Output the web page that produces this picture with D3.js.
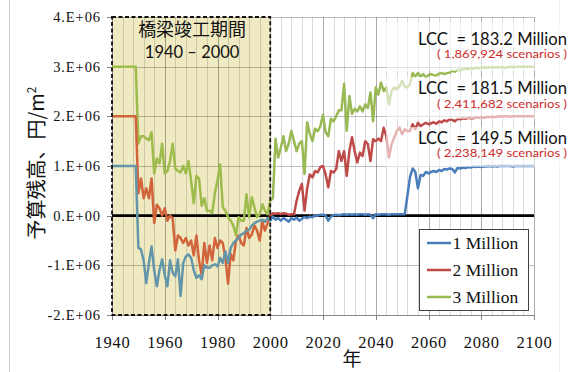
<!DOCTYPE html>
<html><head><meta charset="utf-8">
<script src="https://cdn.jsdelivr.net/npm/d3@7"></script>
<style>html,body{margin:0;padding:0;background:#fff;overflow:hidden}</style>
</head><body><svg id="c" width="575" height="372"></svg>
<script>
// ---------------- data ----------------
const years = d3.range(1940, 2101);
const seriesNames = ["1 Million", "2 Million", "3 Million"];
const blue = [
 1,1,1,1,1,1,1,1,1,1,
 -0.65,-0.68,-0.9,-1.36,-0.95,-0.62,-1.1,-1.42,-1.1,-0.88,
 -1.2,-1.42,-0.9,-1.15,-1.22,-0.88,-1.62,-0.95,-0.82,-0.78,
 -0.85,-1.1,-1.25,-1.2,-1.28,-1.0,-1.05,-1.05,-1.0,-0.98,
 -1.02,-0.85,-0.95,-0.72,-0.95,-0.65,-0.55,-0.5,-0.45,-0.38,
 -0.35,-0.3,-0.28,-0.2,-0.15,-0.12,-0.1,-0.08,-0.12,-0.05,
 -0.1,-0.02,-0.08,-0.05,-0.1,-0.05,-0.08,-0.12,-0.05,-0.08,
 -0.04,-0.1,-0.06,-0.03,-0.05,-0.02,-0.03,0.01,0.0,0.02,
 0.02,0.0,-0.1,-0.02,0.01,0.02,0.01,0.02,0.03,0.02,
 0.03,0.02,0.03,0.02,0.03,0.03,0.02,0.03,0.02,-0.05,
 0.03,0.02,0.03,0.03,0.03,0.02,0.03,0.03,0.03,0.03,
 0.03,0.03,0.4,0.78,0.95,0.88,0.55,0.82,0.8,0.88,
 0.85,0.88,0.9,0.88,0.92,0.9,0.94,0.93,0.95,0.94,
 0.87,0.96,0.95,0.97,0.96,0.98,0.97,0.99,0.98,0.99,
 0.98,0.99,0.99,1.0,0.99,1.0,0.99,1.0,1.0,1.0,
 1.0,1.0,0.99,1.0,1.0,1.0,1.0,1.0,1.0,1.0,
 1.0];
const red = [
 2,2,2,2,2,2,2,2,2,2,
 0.45,0.75,0.35,0.55,0.35,0.75,-0.15,0.22,0.15,0.0,
 0.15,-0.1,0.0,-0.05,-0.7,-0.4,-0.45,-0.55,-0.45,-0.6,
 -0.5,-0.8,-0.4,-0.9,-1.2,-0.55,-0.95,-0.6,-0.9,-0.45,
 -0.65,-0.5,-0.55,-0.85,-1.37,-0.77,-0.9,-0.5,-0.4,-0.55,
 -0.6,-0.25,-0.45,-0.38,-0.2,-0.3,-0.5,-0.12,-0.3,-0.15,
 0.0,0.05,0.04,0.05,0.03,0.05,0.04,0.02,0.03,0.03,
 0.3,0.5,0.64,0.1,0.55,0.83,0.77,0.9,0.87,0.98,
 1.0,0.83,0.57,0.9,0.87,0.94,1.3,1.1,1.3,0.8,
 1.3,1.58,1.3,1.07,1.27,1.2,1.5,1.44,1.1,1.54,
 1.5,1.55,1.5,1.77,1.6,1.17,1.44,1.57,1.71,1.77,
 1.64,1.74,1.7,1.71,1.84,1.74,1.87,1.8,1.84,1.87,
 1.84,1.86,1.88,1.85,1.9,1.88,1.92,1.9,1.94,1.93,
 1.9,1.95,1.94,1.96,1.95,1.97,1.96,1.96,1.98,1.97,
 1.98,1.97,1.99,1.98,1.99,1.98,1.99,2.0,1.99,2.0,
 2.0,1.99,2.0,2.0,2.0,2.0,2.0,2.0,2.0,2.0,
 2.0];
const green = [
 3,3,3,3,3,3,3,3,3,3,
 1.45,1.6,1.6,1.55,1.52,1.68,0.85,1.15,1.05,1.45,
 0.85,0.9,1.1,1.45,0.95,0.9,0.87,1.0,0.85,1.1,
 0.7,0.25,0.8,0.75,0.2,0.35,0.1,0.1,0.05,0.45,
 0.71,1.03,0.17,0.1,-0.03,-0.1,-0.2,-0.4,-0.03,-0.1,
 -0.1,0.43,-0.03,0.37,0.17,-0.03,0.03,0.23,0.1,0.03,
 0.3,0.35,1.55,1.17,1.37,1.6,1.3,1.45,1.71,1.5,
 1.3,1.45,1.5,0.84,1.88,1.65,1.5,1.75,1.7,1.8,
 2.03,1.68,1.6,1.95,1.9,2.0,2.12,2.12,2.65,1.71,
 2.41,2.05,2.15,2.1,2.2,2.1,2.24,2.17,2.48,1.9,
 2.58,2.44,2.68,2.51,2.58,2.24,2.51,2.58,2.55,2.6,
 2.71,2.6,2.58,2.65,2.87,2.8,2.87,2.8,2.85,2.78,
 2.83,2.85,2.83,2.82,2.86,2.87,2.85,2.87,2.88,2.92,
 2.9,2.94,2.93,2.95,2.96,2.95,2.97,2.96,2.98,2.97,
 2.98,2.99,2.98,2.99,2.98,2.99,2.99,2.99,2.99,2.97,
 2.99,3.0,2.99,3.0,3.0,3.0,3.0,3.0,3.0,3.0,
 3.0];
const yTicks = [4, 3, 2, 1, 0, -1, -2];
const yTickLabels = ["4.E+06", "3.E+06", "2.E+06", "1.E+06", "0.E+00", "-1.E+06", "-2.E+06"];
const xTicks = [1940, 1960, 1980, 2000, 2020, 2040, 2060, 2080, 2100];
const xTickLabels = ["1940", "1960", "1980", "2000", "2020", "2040", "2060", "2080", "2100"];
const periodYears = [1940, 2000];
const periodTitle = "橋梁竣工期間";
const periodLabel = "1940 – 2000";
const lccLabels = ["LCC  = 183.2 Million", "LCC  = 181.5 Million", "LCC  = 149.5 Million"];
const scenarioLabels = ["( 1,869,924 scenarios )", "( 2,411,682 scenarios )", "( 2,238,149 scenarios )"];
const yTitle = "予算残高、円/m";
const xTitle = "年";

// ---------------- drawing ----------------
const svg = d3.select("#c");
const L = 112, R = 534, T = 17, B = 315;
const x = d3.scaleLinear().domain([1940, 2100]).range([L, R]);
const y = d3.scaleLinear().domain([-2, 4]).range([B, T]);

svg.append("rect").attr("width", 575).attr("height", 372).attr("fill", "#fff");
// faint page borders
svg.append("line").attr("x1", 9.5).attr("x2", 9.5).attr("y1", 0).attr("y2", 372).attr("stroke", "#cfcfcf");
svg.append("line").attr("x1", 559.5).attr("x2", 559.5).attr("y1", 0).attr("y2", 372).attr("stroke", "#eeeeee");

// period shading
svg.append("rect")
  .attr("x", x(periodYears[0])).attr("y", y(4))
  .attr("width", x(periodYears[1]) - x(periodYears[0])).attr("height", y(-2) - y(4))
  .attr("fill", "#f0eac2");

// gridlines
const g = svg.append("g");
g.selectAll(".vmin").data(d3.range(1940, 2101, 4)).join("line")
  .attr("x1", d => Math.round(x(d)) + 0.5).attr("x2", d => Math.round(x(d)) + 0.5)
  .attr("y1", T).attr("y2", B)
  .attr("stroke", "#000").attr("stroke-opacity", d => (d - 1940) % 20 === 0 ? 0.33 : 0.15);
g.selectAll(".h").data(yTicks).join("line")
  .attr("x1", L).attr("x2", R)
  .attr("y1", d => Math.round(y(d)) + 0.5).attr("y2", d => Math.round(y(d)) + 0.5)
  .attr("stroke", "#000").attr("stroke-opacity", 0.25);

// axes lines & ticks
svg.append("line").attr("x1", L + 0.5).attr("x2", L + 0.5).attr("y1", T).attr("y2", B).attr("stroke", "#868686");
svg.append("line").attr("x1", L).attr("x2", R).attr("y1", B + 0.5).attr("y2", B + 0.5).attr("stroke", "#868686");
svg.selectAll(".yt").data(yTicks).join("line")
  .attr("x1", L - 5).attr("x2", L)
  .attr("y1", d => Math.round(y(d)) + 0.5).attr("y2", d => Math.round(y(d)) + 0.5)
  .attr("stroke", "#868686");
svg.selectAll(".xt").data(xTicks).join("line")
  .attr("x1", d => Math.round(x(d)) + 0.5).attr("x2", d => Math.round(x(d)) + 0.5)
  .attr("y1", B).attr("y2", B + 5).attr("stroke", "#868686");

// zero line
svg.append("line").attr("x1", x(1940)).attr("x2", x(2100)).attr("y1", y(0)).attr("y2", y(0))
  .attr("stroke", "#000").attr("stroke-width", 2.6);

// clip paths
const defs = svg.append("defs");
defs.append("clipPath").attr("id", "cin").append("rect")
  .attr("x", 0).attr("y", 0).attr("width", x(periodYears[1])).attr("height", 372);
defs.append("clipPath").attr("id", "cout").append("rect")
  .attr("x", x(periodYears[1])).attr("y", 0).attr("width", 575).attr("height", 372);

const line = d3.line().x((d, i) => x(years[i])).y(d => y(d)).curve(d3.curveLinear);
const series = [
  {name: seriesNames[0], vals: blue,  cOut: "#4a7ebb", cIn: "#6496aa"},
  {name: seriesNames[1], vals: red,   cOut: "#be4b48", cIn: "#d2643c"},
  {name: seriesNames[2], vals: green, cOut: "#98b954", cIn: "#9ebc4c"}
];
const drawOrder = [2, 1, 0];
drawOrder.forEach(k => {
  const s = series[k];
  svg.append("path").attr("d", line(s.vals)).attr("fill", "none")
    .attr("stroke", s.cIn).attr("stroke-width", 2.5).attr("stroke-linejoin", "round")
    .attr("clip-path", "url(#cin)");
  svg.append("path").attr("d", line(s.vals)).attr("fill", "none")
    .attr("stroke", s.cOut).attr("stroke-width", 2.5).attr("stroke-linejoin", "round")
    .attr("clip-path", "url(#cout)");
});

// LCC label boxes (semi-transparent)
const boxes = [[22, 71], [77, 119], [127, 167]];
const lccBase = [44.5, 94, 143.5];
boxes.forEach((b, i) => {
  svg.append("rect").attr("x", 386).attr("y", b[0]).attr("width", 183).attr("height", b[1] - b[0])
    .attr("fill", "#fff").attr("fill-opacity", 0.58);
  svg.append("text").attr("x", 567).attr("y", lccBase[i]).attr("text-anchor", "end")
    .attr("font-family", "Lato, Open Sans, sans-serif").attr("font-size", 16.5)
    .attr("fill", "#111").attr("textLength", 149).attr("lengthAdjust", "spacingAndGlyphs")
    .style("white-space", "pre").text(lccLabels[i]);
  svg.append("text").attr("x", 567).attr("y", lccBase[i] + 13.5).attr("text-anchor", "end")
    .attr("font-family", "Lato, Open Sans, sans-serif").attr("font-size", 10.5)
    .attr("fill", "#cc2b2b").attr("textLength", 130).attr("lengthAdjust", "spacingAndGlyphs")
    .text(scenarioLabels[i]);
});

// period border
svg.append("rect")
  .attr("x", x(periodYears[0])).attr("y", y(4))
  .attr("width", x(periodYears[1]) - x(periodYears[0])).attr("height", y(-2) - y(4))
  .attr("fill", "none").attr("stroke", "#111").attr("stroke-width", 1.8).attr("stroke-dasharray", "4,2.5");
const pcx = (x(periodYears[0]) + x(periodYears[1])) / 2;
svg.append("text").attr("x", pcx + 1).attr("y", 36).attr("text-anchor", "middle")
  .attr("font-family", "Noto Sans CJK JP, sans-serif").attr("font-size", 18).attr("fill", "#111")
  .text(periodTitle);
svg.append("text").attr("x", pcx + 1).attr("y", 58).attr("text-anchor", "middle")
  .attr("font-family", "Lato, Open Sans, sans-serif").attr("font-size", 16.5).attr("fill", "#111")
  .text(periodLabel);

// legend
const lg = svg.append("g");
lg.append("rect").attr("x", 419.5).attr("y", 229.5).attr("width", 109).attr("height", 81)
  .attr("fill", "#fff").attr("stroke", "#404040").attr("stroke-width", 1);
const rows = [243, 270, 297];
series.forEach((s, i) => {
  lg.append("line").attr("x1", 427).attr("x2", 451).attr("y1", rows[i]).attr("y2", rows[i])
    .attr("stroke", s.cOut).attr("stroke-width", 2.5);
  lg.append("text").attr("x", 452.5).attr("y", rows[i] + 6)
    .attr("font-family", "Liberation Serif, Times New Roman, serif").attr("font-size", 17.5)
    .attr("fill", "#111").text(s.name);
});

// tick labels
svg.selectAll(".yl").data(yTicks).join("text")
  .attr("x", 101).attr("y", d => y(d) + 5).attr("text-anchor", "end")
  .attr("font-family", "Liberation Serif, Times New Roman, serif").attr("font-size", 14.5)
  .attr("letter-spacing", 0.9).attr("fill", "#111")
  .text((d, i) => yTickLabels[i]);
svg.selectAll(".xl").data(xTicks).join("text")
  .attr("x", d => x(d) + 0.5).attr("y", 348).attr("text-anchor", "middle")
  .attr("font-family", "Liberation Serif, Times New Roman, serif").attr("font-size", 16.5)
  .attr("letter-spacing", 0.8).attr("fill", "#111")
  .text((d, i) => xTickLabels[i]);

// axis titles
const yt = svg.append("text").attr("transform", "translate(44,163) rotate(-90)")
  .attr("text-anchor", "middle").attr("font-family", "Noto Sans CJK JP, sans-serif")
  .attr("font-size", 20).attr("fill", "#111");
yt.append("tspan").text(yTitle);
yt.append("tspan").attr("font-size", 12).attr("dy", -8).text("2");
svg.append("text").attr("x", 352).attr("y", 365.5).attr("text-anchor", "middle")
  .attr("font-family", "Noto Sans CJK JP, sans-serif").attr("font-size", 19).attr("fill", "#111")
  .text(xTitle);
</script></body></html>
